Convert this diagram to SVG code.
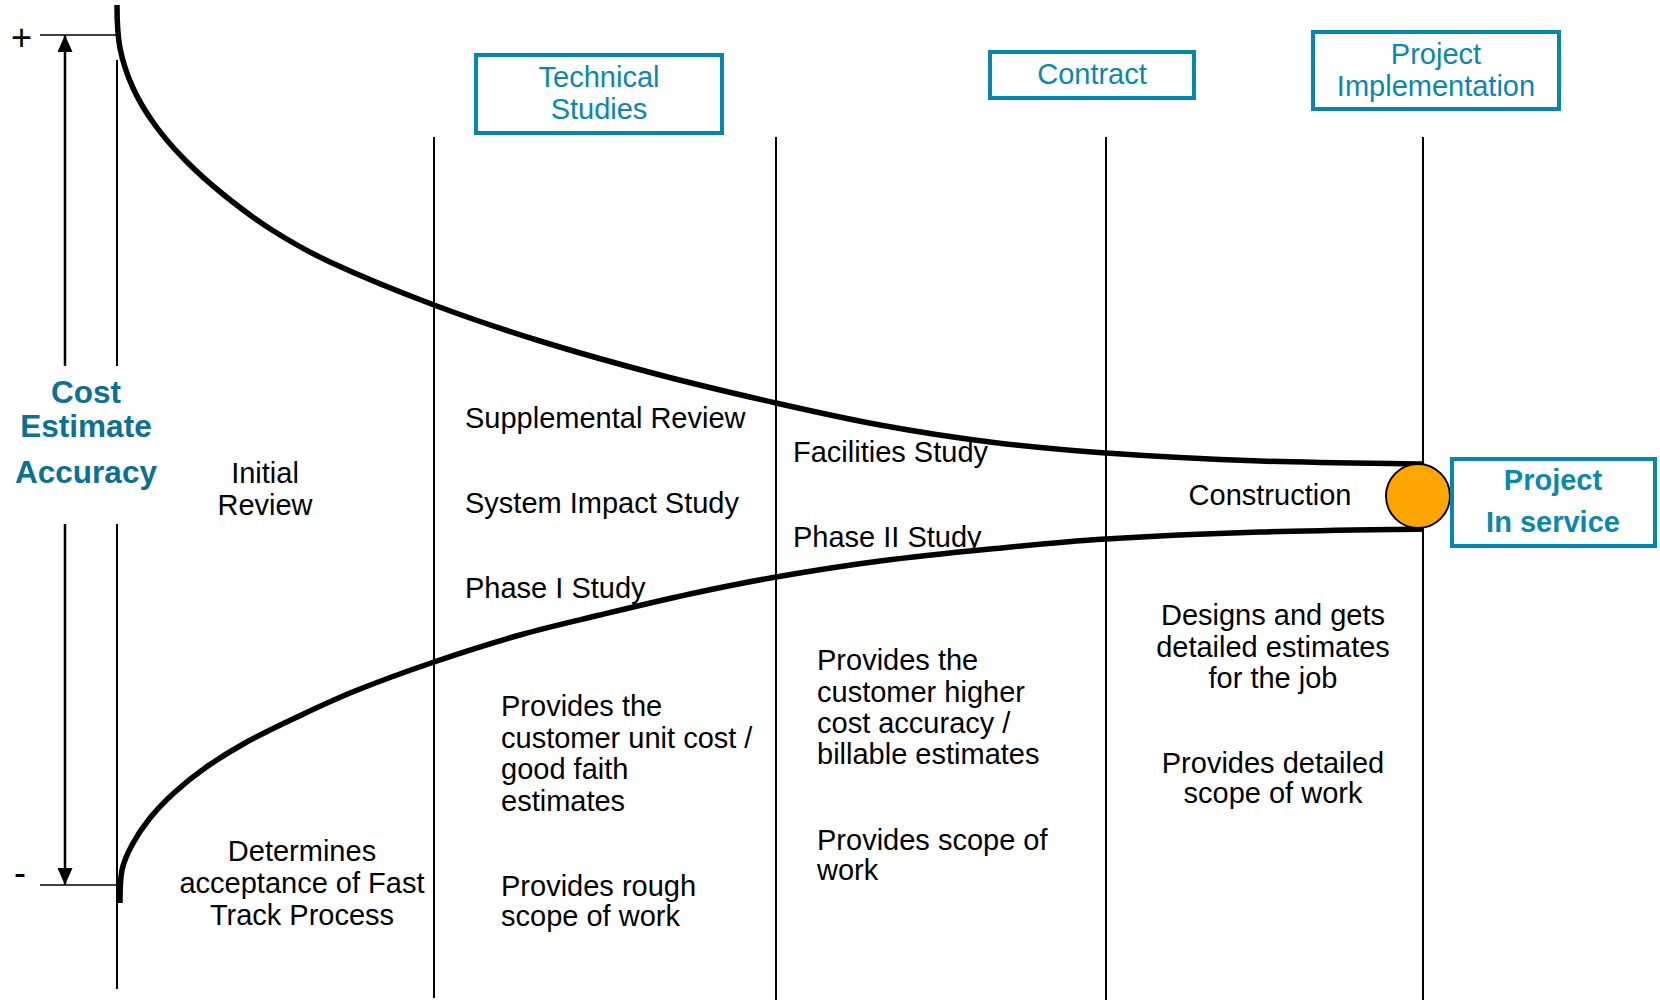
<svg xmlns="http://www.w3.org/2000/svg" width="1660" height="1000" viewBox="0 0 1660 1000">
<style>
  text { font-family: "Liberation Sans", Arial, sans-serif; }
  .t { font-size: 29px; fill: #000; }
  .c { text-anchor: middle; }
  .bt { font-size: 29px; fill: #0A87AE; text-anchor: middle; }
  .bb { font-size: 29px; font-weight: bold; fill: #0A87AE; text-anchor: middle; }
  .axt { font-size: 31.5px; font-weight: bold; fill: #0B7091; text-anchor: middle; }
  .box { fill: #fff; stroke: #0586AE; stroke-width: 4; }
  .col { stroke: #000; stroke-width: 2; fill: none; }
  .curve { stroke: #000; stroke-width: 5.5; fill: none; }
  .ax { stroke: #000; stroke-width: 2.5; fill: none; }
  .tick { stroke: #000; stroke-width: 1.6; fill: none; }
</style>
<defs>
  <marker id="ah" markerUnits="userSpaceOnUse" viewBox="0 0 17 15" markerWidth="17" markerHeight="15" refX="17" refY="7.5" orient="auto">
    <path d="M0,0 L17,7.5 L0,15 z" fill="#000"/>
  </marker>
</defs>
<rect width="1660" height="1000" fill="#fff"/>

<g id="grid">
  <line class="col" x1="117" y1="60" x2="117" y2="366"/>
  <line class="col" x1="117" y1="524" x2="117" y2="989"/>
  <line class="col" x1="434" y1="137" x2="434" y2="998"/>
  <line class="col" x1="776" y1="137" x2="776" y2="1000"/>
  <line class="col" x1="1106" y1="137" x2="1106" y2="1000"/>
  <line class="col" x1="1423" y1="137" x2="1423" y2="1000"/>
</g>

<g id="axis">
  <line class="tick" x1="40" y1="35" x2="117" y2="35"/>
  <line class="tick" x1="40" y1="885" x2="117" y2="885"/>
  <line class="ax" x1="65" y1="366" x2="65" y2="35" marker-end="url(#ah)"/>
  <line class="ax" x1="65" y1="524" x2="65" y2="885" marker-end="url(#ah)"/>
  <text x="11" y="50" style="font-size:36px">+</text>
  <text x="14" y="885" style="font-size:36px">-</text>
  <text class="axt" x="86" y="403">Cost</text>
  <text class="axt" x="86" y="437">Estimate</text>
  <text class="axt" x="86" y="483">Accuracy</text>
</g>

<g id="connectors">
  <path id="upper-curve" class="curve" d="M117,5 C117,13 117.33,34.17 120,48 C122.67,61.83 127.17,75.17 133,88 C138.83,100.83 146.33,113 155,125 C163.67,137 173.5,148.33 185,160 C196.5,171.67 209.5,183.33 224,195 C238.5,206.67 254.33,218.83 272,230 C289.67,241.17 303,249.5 330,262 C357,274.5 399,291.83 434,305 C469,318.17 502.33,329.33 540,341 C577.67,352.67 620.67,364.67 660,375 C699.33,385.33 739.33,394.67 776,403 C812.67,411.33 844.33,418.5 880,425 C915.67,431.5 952.33,437.33 990,442 C1027.67,446.67 1061,449.83 1106,453 C1151,456.17 1207.33,459.17 1260,461 C1312.67,462.83 1395,463.5 1422,464"/>
  <path id="lower-curve" class="curve" d="M120,903 C120,897 120,879.67 122,870 C124,860.33 127.33,853.67 132,845 C136.67,836.33 142.83,826.83 150,818 C157.17,809.17 165.83,800.33 175,792 C184.17,783.67 193.33,776.17 205,768 C216.67,759.83 230,751.33 245,743 C260,734.67 276.67,726.67 295,718 C313.33,709.33 331.83,700.33 355,691 C378.17,681.67 406.5,671.33 434,662 C461.5,652.67 492.33,642.83 520,635 C547.67,627.17 571.67,621.83 600,615 C628.33,608.17 660.67,600.33 690,594 C719.33,587.67 744.33,582.5 776,577 C807.67,571.5 844.33,565.67 880,561 C915.67,556.33 952.33,552.67 990,549 C1027.67,545.33 1061,541.83 1106,539 C1151,536.17 1207,533.67 1260,532 C1313,530.33 1397,529.5 1424,529"/>
</g>

<g id="node-technical-studies">
  <rect class="box" x="476" y="55" width="246" height="78"/>
  <text class="bt" x="599" y="87">Technical</text>
  <text class="bt" x="599" y="119">Studies</text>
</g>
<g id="node-contract">
  <rect class="box" x="990" y="52" width="204" height="46"/>
  <text class="bt" x="1092" y="84">Contract</text>
</g>
<g id="node-project-implementation">
  <rect class="box" x="1313" y="32" width="246" height="77"/>
  <text class="bt" x="1436" y="64">Project</text>
  <text class="bt" x="1436" y="96">Implementation</text>
</g>
<g id="node-in-service-dot">
  <circle cx="1418" cy="496" r="32" fill="#FFA500" stroke="#000" stroke-width="2"/>
</g>
<g id="node-project-in-service">
  <rect class="box" x="1452" y="459" width="203" height="87"/>
  <text class="bb" x="1553" y="490">Project</text>
  <text class="bb" x="1553" y="532">In service</text>
</g>

<g id="col1-labels">
  <text class="t c" x="265" y="483">Initial</text>
  <text class="t c" x="265" y="515">Review</text>
  <text class="t c" x="302" y="861">Determines</text>
  <text class="t c" x="302" y="893">acceptance of Fast</text>
  <text class="t c" x="302" y="925">Track Process</text>
</g>

<g id="col2-labels">
  <text class="t" x="465" y="428">Supplemental Review</text>
  <text class="t" x="465" y="513">System Impact Study</text>
  <text class="t" x="465" y="598">Phase I Study</text>
  <text class="t" x="501" y="716">Provides the</text>
  <text class="t" x="501" y="748">customer unit cost /</text>
  <text class="t" x="501" y="779">good faith</text>
  <text class="t" x="501" y="811">estimates</text>
  <text class="t" x="501" y="896">Provides rough</text>
  <text class="t" x="501" y="926">scope of work</text>
</g>

<g id="col3-labels">
  <text class="t" x="793" y="462">Facilities Study</text>
  <text class="t" x="793" y="547">Phase II Study</text>
  <text class="t" x="817" y="670">Provides the</text>
  <text class="t" x="817" y="702">customer higher</text>
  <text class="t" x="817" y="733">cost accuracy /</text>
  <text class="t" x="817" y="764">billable estimates</text>
  <text class="t" x="817" y="850">Provides scope of</text>
  <text class="t" x="817" y="880">work</text>
</g>

<g id="col4-labels">
  <text class="t c" x="1270" y="505">Construction</text>
  <text class="t c" x="1273" y="625">Designs and gets</text>
  <text class="t c" x="1273" y="657">detailed estimates</text>
  <text class="t c" x="1273" y="688">for the job</text>
  <text class="t c" x="1273" y="773">Provides detailed</text>
  <text class="t c" x="1273" y="803">scope of work</text>
</g>
</svg>
